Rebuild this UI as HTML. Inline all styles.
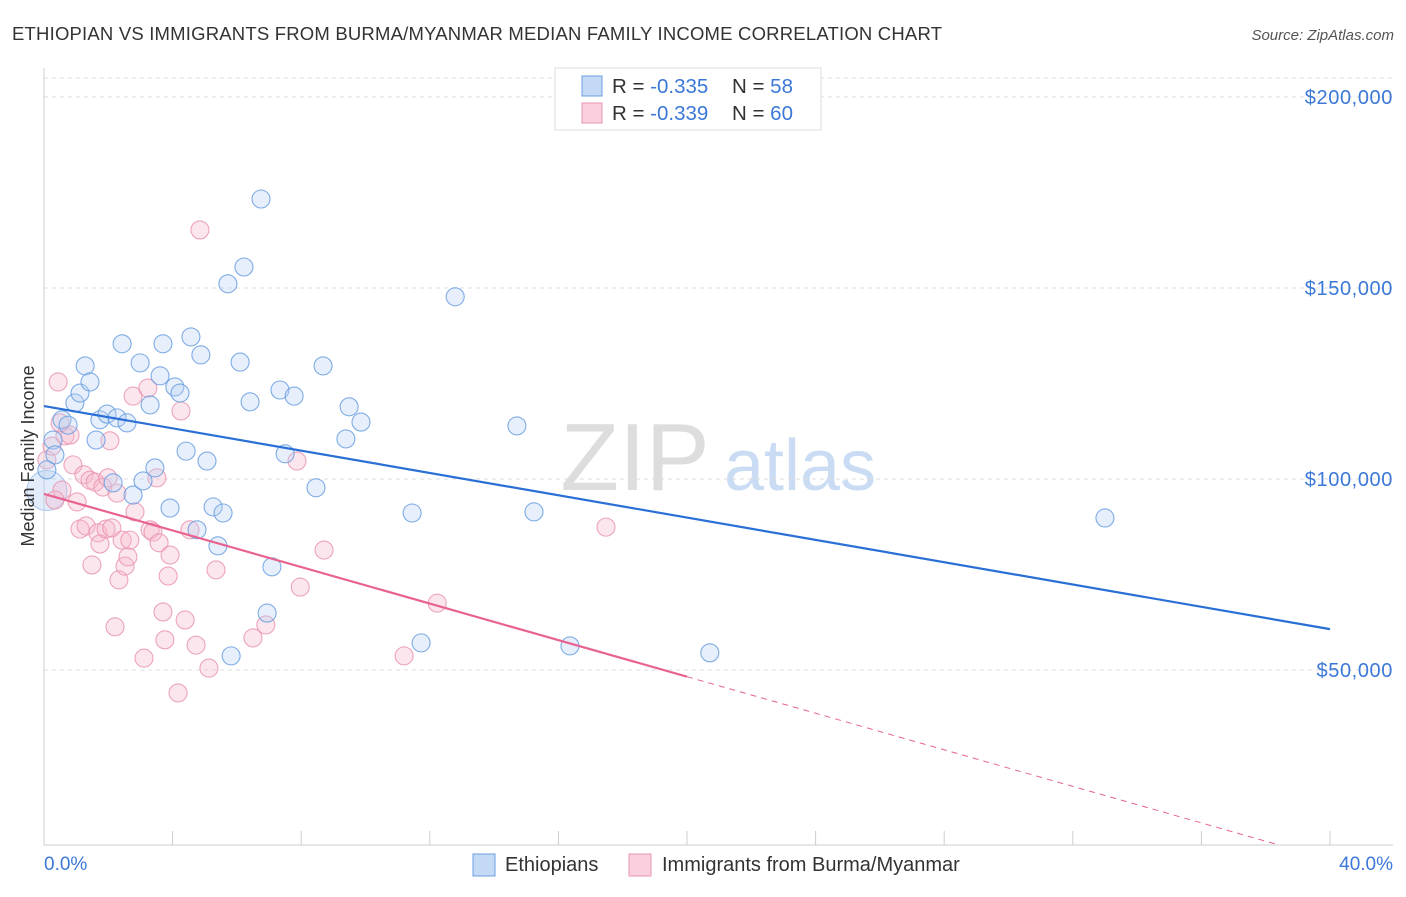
<!DOCTYPE html>
<html><head><meta charset="utf-8"><style>
body{margin:0;background:#fff;font-family:"Liberation Sans",sans-serif}
svg text{font-family:"Liberation Sans",sans-serif}
</style></head><body>
<svg id="chart" width="1406" height="892" xmlns="http://www.w3.org/2000/svg">
<text x="12" y="40" font-size="18.5" fill="#333" textLength="930">ETHIOPIAN VS IMMIGRANTS FROM BURMA/MYANMAR MEDIAN FAMILY INCOME CORRELATION CHART</text>
<text x="1394" y="40" font-size="15" fill="#555" font-style="italic" text-anchor="end">Source: ZipAtlas.com</text>
<g><text x="635" y="490" font-size="96" fill="#ddd" font-family="Liberation Serif" text-anchor="middle">ZIP</text><text x="800" y="490" font-size="72" fill="#c9dcf3" text-anchor="middle">atlas</text></g>
<g id="grid"></g><g id="axes"></g><g id="marks"></g>
<text transform="translate(34,456) rotate(-90)" font-size="18" fill="#333" text-anchor="middle">Median Family Income</text>
<text x="44" y="870" font-size="19" fill="#3b78d8">0.0%</text>
<text x="1393" y="870" font-size="19" fill="#3b78d8" text-anchor="end">40.0%</text>
<g>
<rect x="555" y="68" width="266" height="62" fill="#fff" stroke="#ddd"/>
<rect x="582" y="76" width="20" height="20" fill="#c4d9f5" stroke="#6a9fe0"/>
<rect x="582" y="103" width="20" height="20" fill="#fbd0de" stroke="#e995b2"/>
<text x="612" y="93" font-size="20.5" fill="#333">R = <tspan fill="#3b78d8">-0.335</tspan><tspan x="732">N = </tspan><tspan fill="#3b78d8">58</tspan></text>
<text x="612" y="120" font-size="20.5" fill="#333">R = <tspan fill="#3b78d8">-0.339</tspan><tspan x="732">N = </tspan><tspan fill="#3b78d8">60</tspan></text>
</g>
<g>
<rect x="473" y="854" width="22" height="22" fill="#c4d9f5" stroke="#6a9fe0"/>
<text x="505" y="871" font-size="20" fill="#333">Ethiopians</text>
<rect x="629" y="854" width="22" height="22" fill="#fbd0de" stroke="#e995b2"/>
<text x="662" y="871" font-size="20" fill="#333">Immigrants from Burma/Myanmar</text>
</g>
</svg>
<script>
const yTicks=[50000,100000,150000,200000];
const yTickLabels=["$50,000","$100,000","$150,000","$200,000"];
const xTicks=[0,4,8,12,16,20,24,28,32,36,40];
const blueX=[0.09,0.28,0.34,0.56,0.75,0.96,1.12,1.28,1.43,1.62,1.74,1.96,2.27,2.15,2.43,2.58,2.77,2.99,3.08,3.30,3.45,3.61,3.70,3.92,4.07,4.23,4.42,4.57,4.76,4.88,5.07,5.26,5.41,5.57,5.72,5.82,6.10,6.22,6.41,6.75,6.94,7.09,7.34,7.50,7.78,8.46,8.68,9.49,9.39,9.86,11.45,11.73,12.79,14.71,15.24,16.36,20.71,33.00];
const blueY=[102.4,110.2,106.3,115.5,114.1,119.9,122.5,129.6,125.4,110.2,115.5,117.0,116.0,99.0,135.4,114.7,95.8,130.4,99.5,119.4,102.9,127.0,135.4,92.4,124.1,122.5,107.3,137.2,86.7,132.5,104.7,92.7,82.5,91.1,151.1,53.7,130.6,155.5,120.2,173.3,64.9,77.0,123.3,106.6,121.7,97.7,129.6,118.9,110.5,114.9,91.1,57.1,147.7,113.9,91.4,56.3,54.5,89.8];
const pinkX=[0.09,0.25,0.44,0.56,0.65,0.81,0.90,1.03,1.12,1.24,1.31,1.43,1.59,1.68,1.74,1.83,1.93,2.05,2.11,2.21,2.27,2.33,2.43,2.52,2.61,2.67,2.83,2.77,3.11,3.23,3.30,3.39,3.51,3.58,3.70,3.76,3.86,3.92,4.17,4.26,4.39,4.54,4.73,4.85,5.13,5.35,6.50,6.90,7.87,7.97,8.71,11.20,12.23,17.48,0.34,1.99,0.50,1.49];
const pinkY=[105.0,108.6,125.4,97.1,111.3,111.5,103.7,94.0,86.9,101.1,87.7,99.7,99.2,85.9,83.0,97.9,86.9,110.0,87.2,61.3,96.3,73.6,84.0,77.2,79.6,84.0,91.4,121.7,53.1,123.8,86.7,86.1,100.3,83.3,65.2,57.9,74.6,80.1,44.0,117.8,63.1,86.7,56.5,165.2,50.5,76.2,58.4,61.8,104.7,71.7,81.4,53.7,67.5,87.4,94.5,100.3,114.7,77.5];
const blueLine=[119.1,60.7];
const pinkLine=[96.1,0.4];
const pinkSolidEnd=20;
const X=v=>44+v/40*1286, Y=v=>861-v/50000*191, Yk=v=>Y(v*1000);
const NS="http://www.w3.org/2000/svg";
function mk(p,t,a){const e=document.createElementNS(NS,t);for(const k in a)e.setAttribute(k,a[k]);p.appendChild(e);return e;}
const grid=document.getElementById('grid'),axes=document.getElementById('axes'),marks=document.getElementById('marks');
let g=mk(grid,'line',{x1:44,x2:1393,y1:78,y2:78,stroke:'#ddd','stroke-dasharray':'4,4'});


yTicks.forEach((t,i)=>{
 const l=mk(grid,'line',{x1:44,x2:1393,y1:Y(t),y2:Y(t),stroke:'#ddd','stroke-dasharray':'4,4'});
 
 
 const tx=mk(grid,'text',{x:1393,y:Y(t)+7,'font-size':20,fill:'#3b78d8','text-anchor':'end','letter-spacing':'0.6'});
 tx.textContent=yTickLabels[i];
 
 
});
let a=mk(axes,'line',{x1:44,x2:44,y1:68,y2:845,stroke:'#ccc'});


a=mk(axes,'line',{x1:44,x2:1393,y1:845,y2:845,stroke:'#ccc'});


xTicks.forEach(t=>{const l=mk(axes,'line',{x1:X(t),x2:X(t),y1:831,y2:845,stroke:'#ccc'});
 
 });
function dots(xs,ys,fill,stroke,name){xs.forEach((x,i)=>{const c=mk(marks,'circle',{cx:X(x),cy:Yk(ys[i]),r:9,fill:fill,'fill-opacity':0.35,stroke:stroke,'stroke-width':1.1,'stroke-opacity':0.85});
 
 });}
const big1=mk(marks,'circle',{cx:X(0.09),cy:Yk(97),r:20,fill:'#b7d0f3','fill-opacity':0.4,stroke:'#a9c6ee'});


dots(pinkX,pinkY,'#f6b7cb','#e995b2','pink-point');
dots(blueX,blueY,'#b7d0f3','#6a9fe0','blue-point');
let ln=mk(marks,'line',{x1:X(0),y1:Yk(blueLine[0]),x2:X(40),y2:Yk(blueLine[1]),stroke:'#2a6fd6','stroke-width':2.2});


const py=x=>pinkLine[0]+(pinkLine[1]-pinkLine[0])*x/40;
ln=mk(marks,'line',{x1:X(0),y1:Yk(py(0)),x2:X(pinkSolidEnd),y2:Yk(py(pinkSolidEnd)),stroke:'#e8638f','stroke-width':2.2});


const xe=Math.min(40,(pinkLine[0]-(861-845)/191*50)/(pinkLine[0]-pinkLine[1])*40);
ln=mk(marks,'line',{x1:X(pinkSolidEnd),y1:Yk(py(pinkSolidEnd)),x2:X(xe),y2:Yk(py(xe)),stroke:'#e8638f','stroke-width':1,'stroke-dasharray':'6,5'});


</script>
</body></html>
